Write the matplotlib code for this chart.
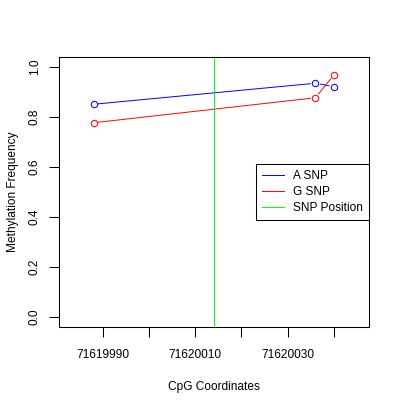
import matplotlib
matplotlib.use("Agg")
import matplotlib.pyplot as plt
import numpy as np

# values
coords = [71619988, 71620036, 71620040]
a_snp = [0.851, 0.935, 0.921]
g_snp = [0.777, 0.877, 0.968]
snp_pos = 71620014
x_ticks = [71619990, 71620000, 71620010, 71620020, 71620030, 71620040]
x_labels = ["71619990", "", "71620010", "", "71620030", ""]
y_ticks = [0.0, 0.2, 0.4, 0.6, 0.8, 1.0]

plt.rcParams["font.family"] = ["Liberation Sans", "DejaVu Sans"]
fs = 8.6

fig = plt.figure(figsize=(4, 4), dpi=100)
ax = fig.add_axes([59 / 400, 73 / 400, 310 / 400, 270 / 400])
ax.set_xlim(71619980.5, 71620047.6)
ax.set_ylim(-0.04, 1.04)


def gapped(ax, xs, ys, color, gap=5.0):
    # R type="b": segments stop short of the points
    pts = ax.transData.transform(np.column_stack([xs, ys]))
    inv = ax.transData.inverted()
    for p, q in zip(pts[:-1], pts[1:]):
        d = q - p
        n = np.hypot(*d)
        if n <= 2 * gap:
            continue
        u = d / n
        seg = inv.transform(np.array([p + u * gap, q - u * gap]))
        ax.plot(seg[:, 0], seg[:, 1], color=color, lw=0.7)
    ax.plot(xs, ys, ls="none", marker="o", ms=4.6, mfc="none",
            mec=color, mew=0.75)


gapped(ax, coords, a_snp, "blue")
gapped(ax, coords, g_snp, "red")
ax.axvline(snp_pos, color="#00FF00", lw=0.7)

ax.plot([], [], color="blue", lw=0.7, label="A SNP")
ax.plot([], [], color="red", lw=0.7, label="G SNP")
ax.plot([], [], color="#00FF00", lw=0.7, label="SNP Position")
handles, labels = ax.get_legend_handles_labels()
leg = ax.legend(handles[-3:], labels[-3:], loc="upper right",
                bbox_to_anchor=(1.0, (327 - 164) / 270), fontsize=fs,
                fancybox=False, framealpha=1, edgecolor="black",
                borderaxespad=0, handlelength=1.85, handletextpad=0.8,
                labelspacing=0.35, borderpad=0.5)
leg.get_frame().set_linewidth(0.75)

ax.set_xticks(x_ticks)
ax.set_xticklabels(x_labels)
ax.set_yticks(y_ticks)
ax.set_yticklabels([f"{v:.1f}" for v in y_ticks], rotation=90, va="center")
ax.tick_params(labelsize=fs, length=7, width=0.75, pad=9)
ax.tick_params(axis="y", pad=6)
for s in ax.spines.values():
    s.set_linewidth(0.75)

ax.set_xlabel("CpG Coordinates", fontsize=fs, labelpad=14)
ax.set_ylabel("Methylation Frequency", fontsize=fs, labelpad=7)

fig.savefig("out.png", dpi=100)
